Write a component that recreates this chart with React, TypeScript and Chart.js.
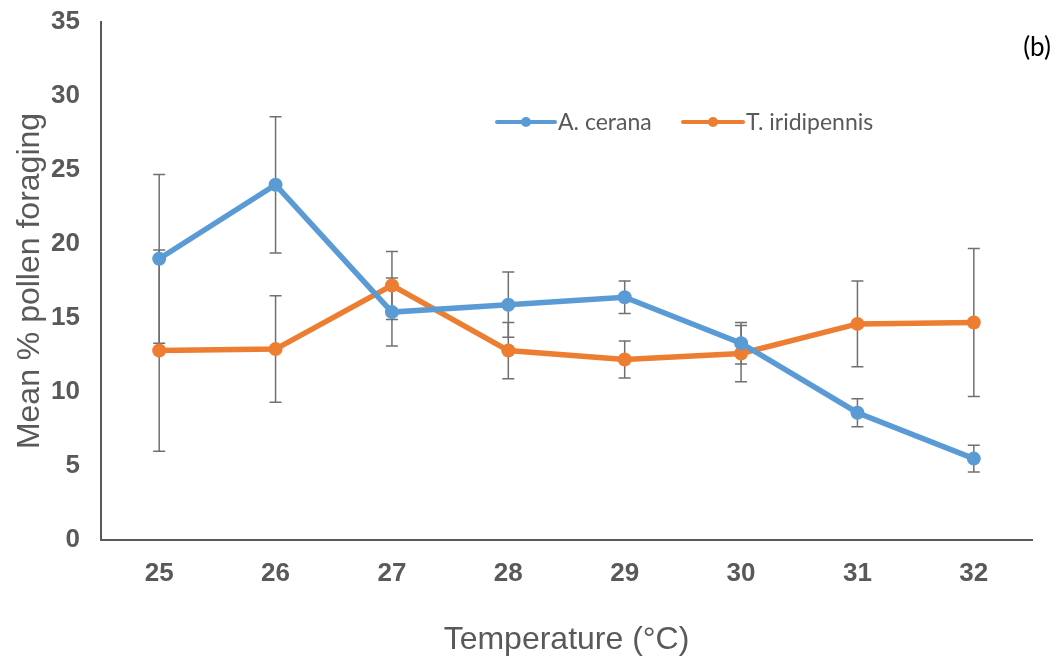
import React, { useEffect, useRef } from "react";
import { Chart, registerables } from "chart.js";

Chart.register(...registerables);

const categories = ["25", "26", "27", "28", "29", "30", "31", "32"];
const ceranaValues = [19.0, 24.0, 15.4, 15.9, 16.4, 13.3, 8.6, 5.5];
const ceranaErrors = [5.7, 4.6, 2.3, 2.2, 1.1, 1.4, 0.95, 0.9];
const iridipennisValues = [12.8, 12.9, 17.2, 12.8, 12.2, 12.6, 14.6, 14.7];
const iridipennisErrors = [6.8, 3.6, 2.3, 1.9, 1.25, 1.9, 2.9, 5.0];
const yTicks = [0, 5, 10, 15, 20, 25, 30, 35];

const BLUE = "#5B9BD5";
const ORANGE = "#ED7D31";
const GREY = "#595959";

const errorsByDataset = [ceranaErrors, iridipennisErrors];

const errorBarPlugin = {
  id: "errorBars",
  beforeDatasetsDraw(chart: any) {
    const ctx = chart.ctx;
    const x = chart.scales.x;
    const y = chart.scales.y;
    ctx.save();
    ctx.strokeStyle = "#707070";
    ctx.lineWidth = 1.5;
    chart.data.datasets.forEach((ds: any, di: number) => {
      const errs = errorsByDataset[di];
      ds.data.forEach((v: number, i: number) => {
        const px = x.getPixelForValue(i);
        const top = y.getPixelForValue(v + errs[i]);
        const bot = y.getPixelForValue(v - errs[i]);
        ctx.beginPath();
        ctx.moveTo(px, top);
        ctx.lineTo(px, bot);
        ctx.moveTo(px - 6, top);
        ctx.lineTo(px + 6, top);
        ctx.moveTo(px - 6, bot);
        ctx.lineTo(px + 6, bot);
        ctx.stroke();
      });
    });
    ctx.restore();
  },
};

const legendFont = "23px Lato, 'Open Sans', sans-serif";

const overlayPlugin = {
  id: "overlay",
  afterDraw(chart: any) {
    const ctx = chart.ctx;
    ctx.save();
    const items = [
      { label: "A. cerana", color: BLUE, x0: 497, x1: 555 },
      { label: "T. iridipennis", color: ORANGE, x0: 683, x1: 743 },
    ];
    const ly = 122;
    items.forEach((it) => {
      ctx.strokeStyle = it.color;
      ctx.lineWidth = 4;
      ctx.lineCap = "round";
      ctx.beginPath();
      ctx.moveTo(it.x0, ly);
      ctx.lineTo(it.x1, ly);
      ctx.stroke();
      ctx.fillStyle = it.color;
      ctx.beginPath();
      ctx.arc((it.x0 + it.x1) / 2, ly, 5, 0, Math.PI * 2);
      ctx.fill();
      ctx.fillStyle = GREY;
      ctx.font = legendFont;
      ctx.textBaseline = "middle";
      ctx.textAlign = "left";
      ctx.fillText(it.label, it.x1 + 3, ly + 1);
    });
    ctx.fillStyle = "#000000";
    ctx.font = "26px Lato, 'Open Sans', sans-serif";
    ctx.textAlign = "center";
    ctx.textBaseline = "middle";
    ctx.fillText("(b)", 1037, 48);
    ctx.restore();
  },
};

export default function App() {
  const ref = useRef<HTMLCanvasElement | null>(null);
  useEffect(() => {
    if (!ref.current) return;
    const chart = new Chart(ref.current, {
      type: "line",
      data: {
        labels: categories,
        datasets: [
          {
            label: "A. cerana",
            data: ceranaValues,
            borderColor: BLUE,
            backgroundColor: BLUE,
            borderWidth: 5.5,
            pointRadius: 7,
            pointBorderWidth: 0,
            pointBackgroundColor: BLUE,
            tension: 0,
          },
          {
            label: "T. iridipennis",
            data: iridipennisValues,
            borderColor: ORANGE,
            backgroundColor: ORANGE,
            borderWidth: 5.5,
            pointRadius: 7,
            pointBorderWidth: 0,
            pointBackgroundColor: ORANGE,
            tension: 0,
          },
        ],
      },
      options: {
        animation: false,
        responsive: true,
        maintainAspectRatio: false,
        layout: { padding: { top: 22, right: 26, bottom: 0, left: 0 } },
        plugins: {
          legend: { display: false },
          tooltip: { enabled: false },
        },
        scales: {
          x: {
            type: "category",
            offset: true,
            grid: { display: false, drawTicks: false },
            border: { display: true, color: GREY, width: 2 },
            ticks: {
              color: GREY,
              padding: 18,
              font: { family: "'Liberation Sans', Arial, sans-serif", size: 26, weight: "bold" },
            },
            title: {
              display: true,
              text: "Temperature (°C)",
              color: GREY,
              padding: { top: 0, bottom: 5 },
              font: { family: "'Liberation Sans', Arial, sans-serif", size: 32 },
            },
            afterFit: (scale: any) => {
              scale.height = 124;
              scale.paddingTop = 0;
              scale.paddingBottom = 0;
            },
          },
          y: {
            min: 0,
            max: 35,
            grid: { display: false, drawTicks: false },
            border: { display: true, color: GREY, width: 2 },
            afterBuildTicks: (scale: any) => {
              scale.ticks = yTicks.map((v) => ({ value: v }));
            },
            ticks: {
              color: GREY,
              padding: 21,
              font: { family: "'Liberation Sans', Arial, sans-serif", size: 26, weight: "bold" },
            },
            title: {
              display: true,
              text: "Mean % pollen foraging",
              color: GREY,
              padding: { top: 11, bottom: 0 },
              font: { family: "'Liberation Sans', Arial, sans-serif", size: 32 },
            },
            afterFit: (scale: any) => {
              scale.width = 101;
              scale.paddingTop = 0;
              scale.paddingBottom = 0;
            },
          },
        },
      },
      plugins: [errorBarPlugin, overlayPlugin],
    } as any);
    return () => chart.destroy();
  }, []);
  return (
    <div style={{ position: "fixed", left: 0, top: 0, width: 1058, height: 664, background: "#ffffff" }}>
      <canvas ref={ref} />
    </div>
  );
}
